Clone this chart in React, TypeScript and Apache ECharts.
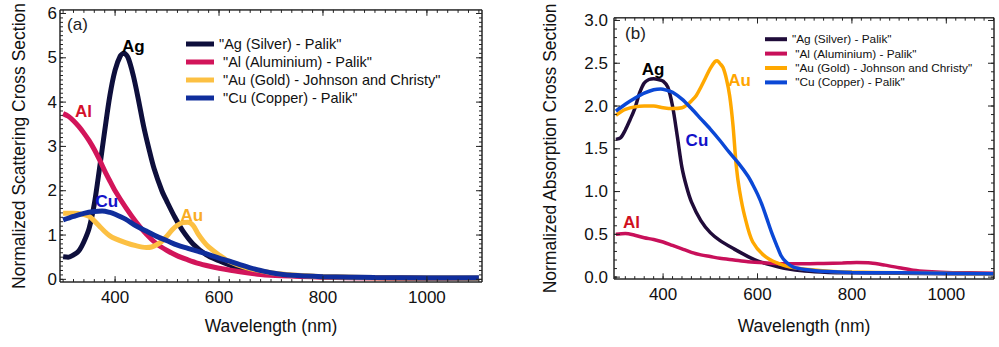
import React, { useEffect, useRef, useState } from "react";
import * as echarts from "echarts";

const FONT = '"Liberation Sans", Arial, Helvetica, sans-serif';

const LEGEND_NAMES = [
  '"Ag (Silver) - Palik"',
  ' "Al (Aluminium) - Palik"',
  ' "Au (Gold) - Johnson and Christy"',
  ' "Cu (Copper) - Palik"',
];

// ---------- Panel (a): normalized scattering cross section ----------
const SCA_AG: [number, number][] = [
  [300, 0.51], [310, 0.5], [320, 0.55], [330, 0.64], [340, 0.85], [350, 1.15], [360, 1.7],
  [370, 2.5], [380, 3.35], [390, 4.15], [400, 4.72], [410, 5.04], [417, 5.1], [425, 5.0],
  [435, 4.6], [445, 4.05], [455, 3.45], [465, 2.95], [475, 2.5], [490, 2.0], [500, 1.75],
  [515, 1.4], [530, 1.1], [550, 0.8], [575, 0.56], [600, 0.42], [630, 0.28], [660, 0.19],
  [700, 0.12], [750, 0.08], [800, 0.06], [900, 0.04], [1000, 0.03], [1100, 0.03],
];
const SCA_AL: [number, number][] = [
  [300, 3.74], [310, 3.68], [320, 3.58], [330, 3.45], [340, 3.3], [350, 3.13], [360, 2.93],
  [370, 2.7], [380, 2.45], [390, 2.22], [400, 2.0], [420, 1.63], [440, 1.3], [460, 1.02],
  [480, 0.8], [500, 0.65], [520, 0.53], [540, 0.44], [560, 0.36], [580, 0.3], [600, 0.25],
  [640, 0.17], [680, 0.11], [720, 0.08], [800, 0.05], [900, 0.03], [1000, 0.02], [1100, 0.02],
];
const SCA_AU: [number, number][] = [
  [300, 1.49], [320, 1.49], [340, 1.46], [350, 1.42], [360, 1.32], [370, 1.2], [380, 1.08],
  [390, 0.98], [400, 0.92], [420, 0.83], [440, 0.76], [460, 0.72], [470, 0.73], [480, 0.78],
  [490, 0.86], [500, 0.98], [510, 1.12], [520, 1.22], [530, 1.28], [540, 1.29], [550, 1.22],
  [560, 1.02], [570, 0.86], [580, 0.73], [600, 0.55], [620, 0.4], [650, 0.27], [700, 0.15],
  [750, 0.09], [800, 0.06], [900, 0.035], [1000, 0.025], [1100, 0.02],
];
const SCA_CU: [number, number][] = [
  [300, 1.34], [320, 1.42], [340, 1.49], [360, 1.53], [375, 1.54], [390, 1.51], [400, 1.47],
  [420, 1.36], [440, 1.21], [460, 1.09], [480, 0.97], [500, 0.87], [520, 0.77], [540, 0.7],
  [560, 0.63], [580, 0.56], [600, 0.48], [620, 0.41], [640, 0.33], [660, 0.26], [680, 0.2],
  [700, 0.15], [740, 0.09], [800, 0.06], [900, 0.04], [1000, 0.03], [1100, 0.03],
];

// ---------- Panel (b): normalized absorption cross section ----------
const ABS_AG: [number, number][] = [
  [300, 1.61], [310, 1.63], [320, 1.72], [330, 1.84], [340, 1.97], [350, 2.15], [360, 2.27],
  [370, 2.31], [380, 2.32], [390, 2.31], [400, 2.29], [410, 2.22], [420, 2.0], [430, 1.65],
  [440, 1.28], [450, 1.05], [460, 0.88], [480, 0.66], [500, 0.52], [520, 0.43], [550, 0.33],
  [580, 0.24], [600, 0.19], [630, 0.14], [660, 0.1], [700, 0.07], [750, 0.055], [800, 0.05],
  [900, 0.045], [1000, 0.04], [1100, 0.04],
];
const ABS_AL: [number, number][] = [
  [300, 0.5], [320, 0.51], [340, 0.49], [360, 0.46], [380, 0.44], [400, 0.41], [420, 0.37],
  [440, 0.33], [460, 0.29], [480, 0.26], [500, 0.24], [520, 0.22], [550, 0.2], [580, 0.18],
  [620, 0.165], [660, 0.155], [700, 0.155], [740, 0.16], [780, 0.165], [810, 0.17], [840, 0.165],
  [870, 0.14], [900, 0.11], [930, 0.08], [960, 0.065], [1000, 0.055], [1050, 0.05], [1100, 0.045],
];
const ABS_AU: [number, number][] = [
  [300, 1.89], [310, 1.93], [320, 1.96], [340, 1.99], [360, 2.0], [380, 2.0], [400, 1.98],
  [420, 1.97], [440, 1.98], [450, 2.01], [460, 2.06], [470, 2.12], [480, 2.22], [490, 2.33],
  [500, 2.44], [510, 2.52], [515, 2.53], [520, 2.5], [527, 2.45], [534, 2.32], [541, 2.12],
  [548, 1.78], [555, 1.3], [562, 1.01], [573, 0.71], [590, 0.41], [619, 0.23], [654, 0.14],
  [689, 0.1], [750, 0.07], [800, 0.06], [900, 0.05], [1000, 0.045], [1100, 0.04],
];
const ABS_CU: [number, number][] = [
  [300, 1.94], [320, 2.02], [340, 2.09], [360, 2.15], [380, 2.19], [395, 2.2], [410, 2.18],
  [420, 2.16], [440, 2.08], [460, 1.97], [480, 1.85], [500, 1.73], [520, 1.6], [540, 1.46],
  [560, 1.33], [580, 1.18], [590, 1.08], [600, 0.97], [610, 0.84], [620, 0.68], [630, 0.52],
  [640, 0.38], [650, 0.25], [660, 0.18], [675, 0.12], [700, 0.09], [750, 0.065], [800, 0.055],
  [900, 0.05], [1000, 0.045], [1100, 0.04],
];

// ---------- ticks ----------
const X_MAJOR = [400, 600, 800, 1000];
const Y_MAJOR_A = [0, 1, 2, 3, 4, 5, 6];
const Y_MAJOR_B = [0, 0.5, 1.0, 1.5, 2.0, 2.5, 3.0];

function steps(from: number, to: number, step: number): number[] {
  const out: number[] = [];
  const n = Math.round((to - from) / step);
  for (let i = 0; i <= n; i++) out.push(Math.round((from + i * step) * 1000) / 1000);
  return out;
}
const X_MINOR = steps(300, 1100, 20);
const Y_MINOR_A = steps(0, 6, 0.1);
const Y_MINOR_B = steps(0, 3, 0.1);

type Label = { name: string; coord: [number, number]; color: string; bold: boolean };

type PanelCfg = {
  width: number;
  height: number;
  grid: { left: number; top: number; right: number; bottom: number };
  xRange: [number, number];
  yRange: [number, number];
  yMajor: number[];
  yMinor: number[];
  yDigits: number;
  yName: string;
  yNameGap: number;
  yLabelMargin: number;
  xNameGap: number;
  colors: string[];
  lineWidth: number;
  data: [number, number][][];
  legend: { left: number; top: number; itemWidth: number; itemHeight: number; fontSize: number; lineHeight: number };
  labels: Label[];
};

const AXIS_COLOR = "#333333";
const TEXT_COLOR = "#111111";

const LOG: string[] = [];

function buildOption(c: PanelCfg) {
  const [x0, x1] = c.xRange;
  const [y0, y1] = c.yRange;
  const pxX = (c.width - c.grid.left - c.grid.right) / (x1 - x0);
  const pxY = (c.height - c.grid.top - c.grid.bottom) / (y1 - y0);
  const GAP: [number, number] = [NaN, NaN];

  const frameData: [number, number][] = [[x0, y0], [x1, y0], [x1, y1], [x0, y1], [x0, y0]];
  const tickData: [number, number][] = [];
  const addX = (vals: number[], len: number) =>
    vals.forEach((v) => {
      tickData.push([v, y0], [v, y0 + len / pxY], GAP);
      tickData.push([v, y1], [v, y1 - len / pxY], GAP);
    });
  const addY = (vals: number[], len: number) =>
    vals.forEach((v) => {
      tickData.push([x0, v], [x0 + len / pxX, v], GAP);
      tickData.push([x1, v], [x1 - len / pxX, v], GAP);
    });
  addX(X_MINOR, 3);
  addX(X_MAJOR, 6);
  addY(c.yMinor, 3);
  addY(c.yMajor, 6);

  const digits = c.yDigits;
  const xAxis = {
    type: "value",
    min: x0,
    max: x1,
    position: "bottom",
    axisLine: { show: false, onZero: false },
    axisTick: { show: false },
    axisLabel: {
      show: true,
      customValues: X_MAJOR,
      margin: 7,
      fontSize: 17,
      color: TEXT_COLOR,
      fontFamily: FONT,
      formatter: (v: any) => String(Number(v)),
    },
    splitLine: { show: false },
    name: "Wavelength (nm)",
    nameLocation: "middle",
    nameGap: c.xNameGap,
    nameTextStyle: { fontSize: 17.5, color: TEXT_COLOR, fontFamily: FONT },
  };
  const yAxis = {
    type: "value",
    min: y0,
    max: y1,
    position: "left",
    axisLine: { show: false, onZero: false },
    axisTick: { show: false },
    axisLabel: {
      show: true,
      customValues: c.yMajor,
      margin: c.yLabelMargin,
      fontSize: 17,
      color: TEXT_COLOR,
      fontFamily: FONT,
      formatter: (v: any) => Number(v).toFixed(digits),
    },
    splitLine: { show: false },
    name: c.yName,
    nameLocation: "middle",
    nameGap: c.yNameGap,
    nameTextStyle: { fontSize: 17.5, color: TEXT_COLOR, fontFamily: FONT },
  };

  const helper = (name: string, data: [number, number][]) => ({
    name,
    type: "line",
    data,
    symbol: "none",
    showSymbol: false,
    smooth: false,
    connectNulls: false,
    clip: false,
    silent: true,
    color: "#222222",
    lineStyle: { color: "#222222", width: 1 },
    z: 10,
  });

  const curves = c.data.map((d, i) => ({
    name: LEGEND_NAMES[i],
    type: "line",
    data: d,
    smooth: 0.3,
    symbol: "none",
    showSymbol: false,
    color: c.colors[i],
    lineStyle: { color: c.colors[i], width: c.lineWidth },
    z: 2 + i,
    ...(i === 0
      ? {
          markPoint: {
            silent: true,
            symbol: "circle",
            symbolSize: 0,
            label: { show: true, position: "inside", formatter: "{b}" },
            data: c.labels.map((l) => ({
              name: l.name,
              coord: l.coord,
              label: {
                color: l.color,
                fontWeight: l.bold ? "bold" : "normal",
                fontSize: 17,
                fontFamily: FONT,
              },
            })),
          },
        }
      : {}),
  }));

  return {
    animation: false,
    textStyle: { fontFamily: FONT },
    grid: { ...c.grid, show: true, borderColor: AXIS_COLOR, borderWidth: 1 },
    xAxis,
    yAxis,
    legend: {
      orient: "vertical",
      left: c.legend.left,
      top: c.legend.top,
      itemWidth: c.legend.itemWidth,
      itemHeight: c.legend.itemHeight,
      itemGap: 0,
      icon: "rect",
      selectedMode: false,
      padding: 0,
      data: LEGEND_NAMES,
      textStyle: {
        fontSize: c.legend.fontSize,
        lineHeight: c.legend.lineHeight,
        color: TEXT_COLOR,
        fontFamily: FONT,
      },
    },
    series: [helper("frame", frameData), helper("ticks", tickData), ...curves],
  };
}

const PANEL_A: PanelCfg = {
  width: 500,
  height: 347,
  grid: { left: 60, top: 4, right: 18, bottom: 65 },
  xRange: [294, 1106],
  yRange: [-0.06, 6.08],
  yMajor: Y_MAJOR_A,
  yMinor: Y_MINOR_A,
  yDigits: 0,
  yName: "Normalized Scattering Cross Section",
  yNameGap: 32,
  yLabelMargin: 3,
  xNameGap: 35,
  colors: ["#0e0f3c", "#d2155a", "#fcc043", "#102e9c"],
  lineWidth: 5,
  data: [SCA_AG, SCA_AL, SCA_AU, SCA_CU],
  legend: { left: 186, top: 35, itemWidth: 28, itemHeight: 5, fontSize: 14.5, lineHeight: 18 },
  labels: [
    { name: "(a)", coord: [327.7, 5.76], color: "#222", bold: false },
    { name: "Ag", coord: [435, 5.26], color: "#000", bold: true },
    { name: "Al", coord: [339, 3.79], color: "#d4102a", bold: true },
    { name: "Cu", coord: [384, 1.75], color: "#1414c8", bold: true },
    { name: "Au", coord: [547.5, 1.45], color: "#f9ad25", bold: true },
  ],
};

const PANEL_B: PanelCfg = {
  width: 499,
  height: 347,
  grid: { left: 114, top: 4, right: 5, bottom: 68 },
  xRange: [296, 1101],
  yRange: [-0.022, 3.031],
  yMajor: Y_MAJOR_B,
  yMinor: Y_MINOR_B,
  yDigits: 1,
  yName: "Normalized Absorption Cross Section",
  yNameGap: 55,
  yLabelMargin: 6,
  xNameGap: 38,
  colors: ["#200c3a", "#c8105a", "#ffa800", "#0b48d6"],
  lineWidth: 3.5,
  data: [ABS_AG, ABS_AL, ABS_AU, ABS_CU],
  legend: { left: 265, top: 32, itemWidth: 22, itemHeight: 4, fontSize: 11.8, lineHeight: 14.4 },
  labels: [
    { name: "(b)", coord: [341.5, 2.85], color: "#222", bold: false },
    { name: "Ag", coord: [378.6, 2.43], color: "#000", bold: true },
    { name: "Au", coord: [562, 2.3], color: "#ffa500", bold: true },
    { name: "Cu", coord: [471.7, 1.6], color: "#1212c8", bold: true },
    { name: "Al", coord: [333, 0.64], color: "#d0101e", bold: true },
  ],
};

function Panel({ cfg, onLog }: { cfg: PanelCfg; onLog: () => void }) {
  const ref = useRef<HTMLDivElement>(null);
  useEffect(() => {
    if (!ref.current) return;
    const chart = echarts.init(ref.current, undefined, { renderer: "svg" });
    try {
      chart.setOption(buildOption(cfg) as any);
    } catch (e: any) {
      LOG.push("ERR " + String(e && e.message ? e.message : e));
    }
    onLog();
    return () => chart.dispose();
  }, [cfg]);
  return <div ref={ref} style={{ width: cfg.width, height: cfg.height, flex: "none" }} />;
}

export default function App() {
  const [msgs, setMsgs] = useState<string[]>([]);
  useEffect(() => {
    document.body.style.margin = "0";
  }, []);
  const origErr = useRef<any>(null);
  if (!origErr.current) {
    origErr.current = console.error;
    const oe = console.error;
    const ow = console.warn;
    console.error = (...a: any[]) => {
      LOG.push("E " + a.map(String).join(" "));
      oe.apply(console, a);
    };
    console.warn = (...a: any[]) => {
      LOG.push("W " + a.map(String).join(" "));
      ow.apply(console, a);
    };
  }
  const onLog = () => setMsgs(Array.from(new Set(LOG)));
  return (
    <div style={{ position: "relative", width: 999, height: 347 }}>
      <div style={{ display: "flex", width: 999, height: 347 }}>
        <Panel cfg={PANEL_A} onLog={onLog} />
        <Panel cfg={PANEL_B} onLog={onLog} />
      </div>
      {msgs.length > 0 && (
        <div
          style={{
            position: "absolute",
            left: 0,
            bottom: 0,
            width: 999,
            fontSize: 8,
            lineHeight: "9px",
            color: "#c00",
            fontFamily: "DejaVu Sans",
            whiteSpace: "nowrap",
            overflow: "hidden",
          }}
        >
          {msgs.slice(0, 3).map((m, i) => (
            <div key={i}>{m.slice(0, 220)}</div>
          ))}
        </div>
      )}
    </div>
  );
}
